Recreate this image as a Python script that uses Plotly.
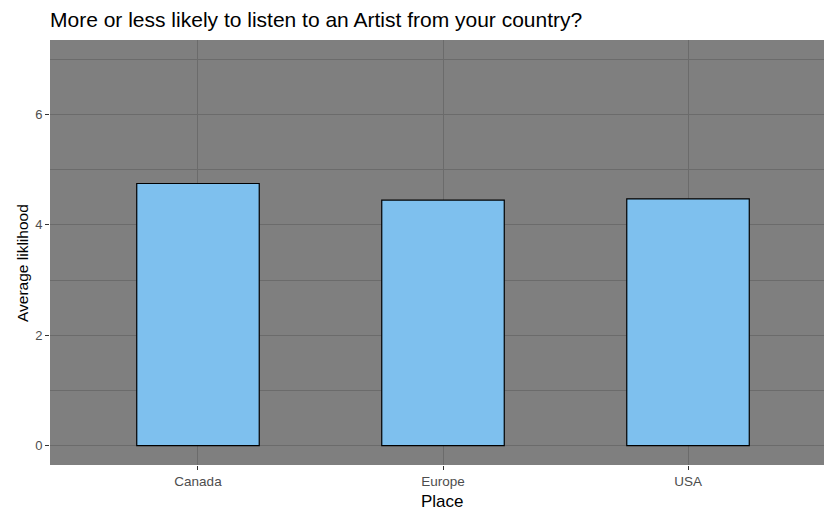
import plotly.graph_objects as go

places = ["Canada", "Europe", "USA"]
avg_likelihood = [4.75, 4.45, 4.47]

fig = go.Figure()
fig.add_trace(go.Bar(
    x=places, y=avg_likelihood, width=0.5,
    marker=dict(color="#7EC0EE", line=dict(color="black", width=1.2)),
))

font_fam = "Liberation Sans, Arial, sans-serif"
fig.update_layout(
    width=824, height=510,
    margin=dict(l=50, r=0, t=40, b=45, autoexpand=False),
    paper_bgcolor="white", plot_bgcolor="#7f7f7f",
    font=dict(family=font_fam),
    showlegend=False,
    xaxis=dict(range=[-0.604, 2.555], showgrid=True, gridcolor="#6b6b6b", gridwidth=1.2,
               zeroline=False, ticks="outside", ticklen=4, tickcolor="#333333",
               tickfont=dict(size=13.5, color="#4d4d4d"), automargin=False),
    yaxis=dict(range=[-0.35, 7.35], tickvals=[0, 2, 4, 6], showgrid=True,
               gridcolor="#6b6b6b", gridwidth=1.2, zeroline=False,
               ticks="outside", ticklen=4, tickcolor="#333333",
               tickfont=dict(size=13, color="#4d4d4d"), automargin=False,
               minor=dict(tickvals=[1, 3, 5, 7], showgrid=True, gridcolor="#6b6b6b", gridwidth=0.8, ticks="")),
    annotations=[
        dict(text="More or less likely to listen to an Artist from your country?",
             xref="paper", yref="paper", x=-2/774, y=1 + 20/425, xanchor="left", yanchor="middle",
             showarrow=False, font=dict(size=21, color="black", family=font_fam)),
        dict(text="Place", xref="paper", yref="paper", x=392/774, y=-36/425,
             xanchor="center", yanchor="middle", showarrow=False,
             font=dict(size=17, color="black", family=font_fam)),
        dict(text="Average liklihood", xref="paper", yref="paper", x=-28/774, y=(465-263)/425,
             xanchor="center", yanchor="middle", textangle=-90, showarrow=False,
             font=dict(size=15.5, color="black", family=font_fam)),
    ],
)

# remove the page's default body margin so the figure fills the window exactly
fig.write_html("out.html", config={"displayModeBar": False},
               post_script="document.body.style.margin='0';document.body.style.overflow='hidden';")
